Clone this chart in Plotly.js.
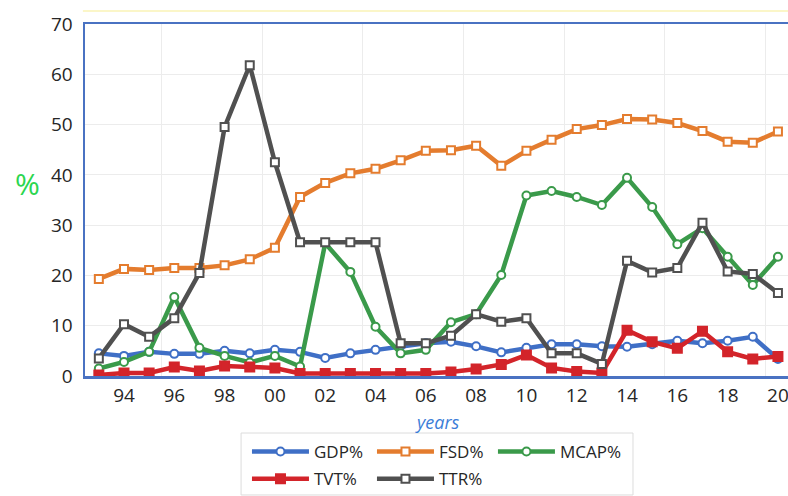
<!DOCTYPE html>
<html><head><meta charset="utf-8">
<script src="https://cdn.plot.ly/plotly-3.0.1.min.js"></script>
<style>html,body{margin:0;padding:0;overflow:hidden;background:#fff}#chart{width:788px;height:496px}</style>
</head><body><div id="chart"></div>
<script>
const years = [1993,1994,1995,1996,1997,1998,1999,2000,2001,2002,2003,2004,2005,2006,2007,2008,2009,2010,2011,2012,2013,2014,2015,2016,2017,2018,2019,2020];
const tickYears = [1994,1996,1998,2000,2002,2004,2006,2008,2010,2012,2014,2016,2018,2020];
const tickLabels = ['94','96','98','00','02','04','06','08','10','12','14','16','18','20'];
const yTicks = [0,10,20,30,40,50,60,70];

const gdp  = [4.5,4.0,4.8,4.4,4.4,5.0,4.5,5.2,4.8,3.6,4.5,5.2,6.0,6.5,6.8,5.9,4.7,5.6,6.3,6.3,5.9,5.8,6.3,7.0,6.5,7.0,7.8,3.4];
const fsd  = [19.3,21.3,21.1,21.5,21.5,22.0,23.2,25.5,35.6,38.4,40.3,41.2,42.9,44.8,44.9,45.8,41.8,44.8,47.0,49.1,49.9,51.1,51.0,50.3,48.7,46.6,46.4,48.6];
const mcap = [1.5,2.8,4.8,15.7,5.6,4.0,2.7,4.0,1.9,26.4,20.7,9.8,4.5,5.2,10.7,12.3,20.1,35.9,36.8,35.6,34.0,39.4,33.6,26.2,29.4,23.7,18.1,23.7];
const tvt  = [0.2,0.6,0.6,1.8,1.0,2.0,1.8,1.6,0.5,0.5,0.5,0.5,0.5,0.5,0.8,1.4,2.3,4.2,1.6,0.9,0.6,9.1,6.8,5.5,8.9,4.8,3.4,3.9];
const ttr  = [3.5,10.3,7.8,11.5,20.5,49.5,61.8,42.5,26.6,26.6,26.6,26.6,6.5,6.5,8.0,12.3,10.8,11.5,4.5,4.5,2.4,22.9,20.6,21.5,30.5,20.8,20.3,16.5];

const seriesNames = ['GDP%','FSD%','MCAP%','TVT%','TTR%'];
const colors = ['#3f6fc6','#e47c2e','#3a9a4a','#d3242a','#505050'];

function tr(name, y, color, symbol, filled, legend) {
  return {
    type: 'scatter', mode: 'lines+markers', name: name, x: years, y: y,
    legend: legend,
    line: {color: color, width: 4.5},
    marker: {symbol: symbol, size: filled ? 9 : 8, color: filled ? color : '#ffffff',
             line: {color: color, width: 2}},
    hoverinfo: 'x+y+name'
  };
}

const data = [
  tr(seriesNames[0], gdp,  colors[0], 'circle', false, 'legend'),
  tr(seriesNames[1], fsd,  colors[1], 'square', false, 'legend'),
  tr(seriesNames[2], mcap, colors[2], 'circle', false, 'legend3'),
  tr(seriesNames[3], tvt,  colors[3], 'square', true,  'legend2'),
  tr(seriesNames[4], ttr,  colors[4], 'square', false, 'legend2')
];

const axisBlue = '#4a72c2';
const gridCol = '#ececec';
const fontFam = '"Open Sans", "Liberation Sans", sans-serif';

function legendBox(x, y, ew) {
  return {
    orientation: 'h', x: x, xanchor: 'left', y: y, yanchor: 'middle',
    xref: 'paper', yref: 'paper', itemwidth: 57, entrywidth: ew, borderwidth: 0,
    bgcolor: 'rgba(0,0,0,0)', font: {size: 17, color: '#262626'}, traceorder: 'normal'
  };
}

const layout = {
  width: 788, height: 496,
  margin: {l: 85, r: 0, t: 24, b: 120, autoexpand: false},
  paper_bgcolor: '#ffffff', plot_bgcolor: '#ffffff',
  font: {family: fontFam, color: '#262626'},
  showlegend: true,
  xaxis: {
    range: [1992.45, 2020.4], tickmode: 'array', tickvals: tickYears, ticktext: tickLabels,
    showgrid: false, zeroline: false, showline: true, mirror: true,
    linecolor: axisBlue, linewidth: 2.5, ticks: '', ticklabelstandoff: 1,
    ticklabeloverflow: 'allow',
    tickfont: {size: 19, color: '#262626'},
    minor: {tickmode: 'linear', tick0: 1995.5, dtick: 4, showgrid: true, gridcolor: gridCol, gridwidth: 1, ticks: ''},
    automargin: false, fixedrange: true
  },
  yaxis: {
    range: [0, 70], tickmode: 'array', tickvals: yTicks,
    showgrid: true, gridcolor: gridCol, gridwidth: 1, zeroline: false,
    showline: true, mirror: false, linecolor: axisBlue, linewidth: 2.5,
    ticks: '', ticklabelstandoff: 6, tickfont: {size: 19, color: '#262626'},
    automargin: false, fixedrange: true
  },
  legend: legendBox(0.2304, -0.216, 53),
  legend2: legendBox(0.2304, -0.293, 53),
  legend3: legendBox(0.5803, -0.216, 0),
  annotations: [
    {text: '%', xref: 'paper', yref: 'paper', x: -0.0825, y: 0.548, showarrow: false,
     xanchor: 'center', yanchor: 'middle', font: {size: 30, color: '#2bd64f', family: fontFam}},
    {text: '<i>years</i>', xref: 'paper', yref: 'paper', x: 0.502, y: -0.13, showarrow: false,
     xanchor: 'center', yanchor: 'middle', font: {size: 18, color: '#3b7dd8', family: fontFam}}
  ],
  shapes: [
    {type: 'rect', xref: 'paper', yref: 'paper', x0: 0.222, x1: 0.7795, y0: -0.162, y1: -0.338,
     line: {color: '#dcdcdc', width: 1}, fillcolor: 'rgba(0,0,0,0)', layer: 'below'},
    {type: 'line', xref: 'paper', yref: 'paper', x0: -0.003, x1: 1, y0: 1.037, y1: 1.037,
     line: {color: '#fbf6c8', width: 2}}
  ]
};

Plotly.newPlot('chart', data, layout, {displayModeBar: false, staticPlot: true});
</script>
</body></html>
